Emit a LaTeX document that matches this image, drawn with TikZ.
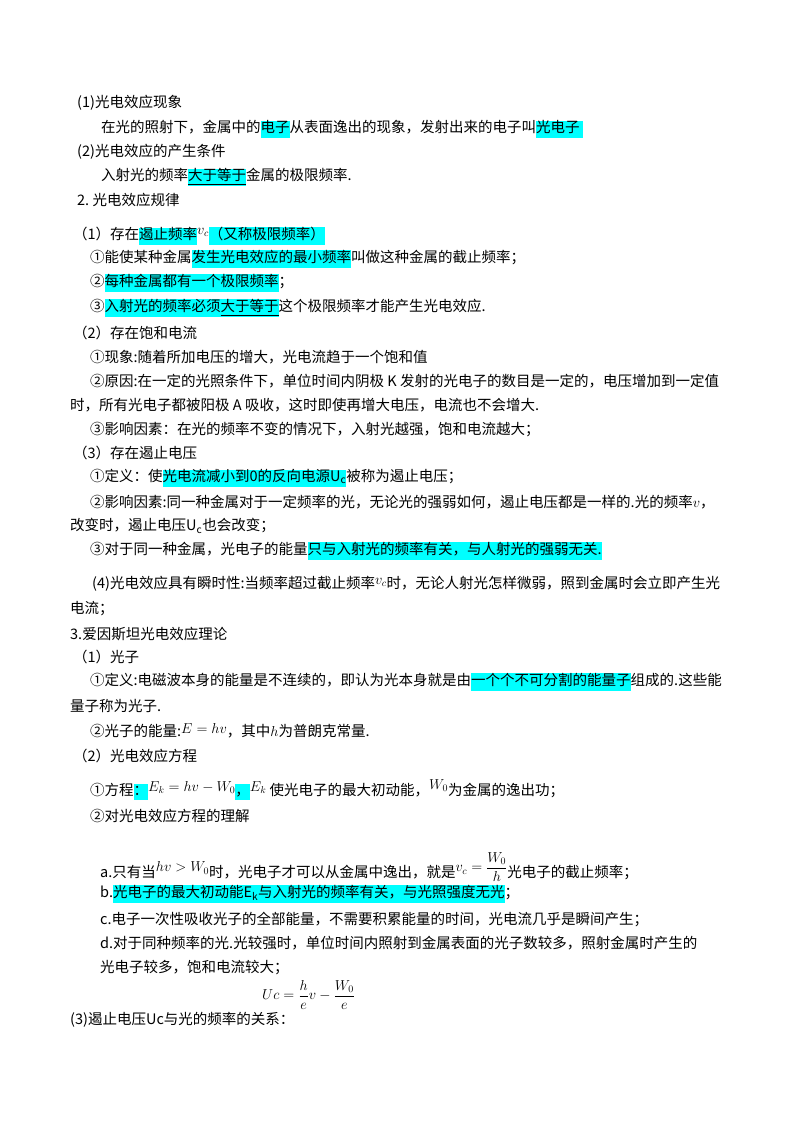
\documentclass[tikz,border=0pt]{standalone}
\usepackage{amsmath}
\usepackage{fontspec}
\setmainfont{Noto Sans CJK SC}
\definecolor{hlcyan}{RGB}{0,255,255}
\newcommand\hlt[1]{{\setlength{\fboxsep}{0pt}\colorbox{hlcyan}{\strut #1}}}
\begin{document}
\begin{tikzpicture}[x=1pt, y=1pt,
    line/.style = {anchor=west, inner sep=0pt, font=\fontsize{14.5}{16}\selectfont}]
    \useasboundingbox (0,0) rectangle (800,-1132);
    % section 1
    \node[line] (l1) at (77,-103) {(1)光电效应现象};
    \node[line] (l2) at (101,-129) {在光的照射下，金属中的\hlt{电子}从表面逸出的现象，发射出来的电子叫\hlt{光电子\ }};
    \node[line] (l3) at (77,-152) {(2)光电效应的产生条件};
    \node[line] (l4) at (101,-177) {入射光的频率\hlt{\underline{大于等于}}金属的极限频率.};
    % section 2
    \node[line] (l5) at (77,-200) {2.\ 光电效应规律};
    \node[line] (l6) at (73,-236) {（1）存在\hlt{遏止频率}\raisebox{5pt}{$v_c$}\hlt{（又称极限频率）}};
    \node[line] (l7) at (90,-259) {①能使某种金属\hlt{发生光电效应的最小频率}叫做这种金属的截止频率；};
    \node[line] (l8) at (90,-283) {②\hlt{每种金属都有一个极限频率}；};
    \node[line] (l9) at (90,-308) {③\hlt{入射光的频率必须\underline{大于等于}}这个极限频率才能产生光电效应.};
    \node[line] (l10) at (73,-333) {（2）存在饱和电流};
    \node[line] (l11) at (90,-357) {①现象:随着所加电压的增大，光电流趋于一个饱和值};
    \node[line] (l12) at (90,-381) {②原因:在一定的光照条件下，单位时间内阴极 K 发射的光电子的数目是一定的，电压增加到一定值};
    \node[line] (l13) at (70,-405) {时，所有光电子都被阳极 A 吸收，这时即使再增大电压，电流也不会增大.};
    \node[line] (l14) at (90,-430) {③影响因素：在光的频率不变的情况下，入射光越强，饱和电流越大；};
    \node[line] (l15) at (73,-453) {（3）存在遏止电压};
    \node[line] (l16) at (90,-478) {①定义：使\hlt{光电流减小到0的反向电源U\textsubscript{c}}被称为遏止电压；};
    \node[line] (l17) at (90,-502) {②影响因素:同一种金属对于一定频率的光，无论光的强弱如何，遏止电压都是一样的.光的频率$v$，};
    \node[line] (l18) at (70,-526) {改变时，遏止电压U\textsubscript{c}也会改变；};
    \node[line] (l19) at (90,-551) {③对于同一种金属，光电子的能量\hlt{只与入射光的频率有关，与人射光的强弱无关.}};
    \node[line] (l20) at (92,-584) {(4)光电效应具有瞬时性:当频率超过截止频率\raisebox{4pt}{$v_c$}时，无论人射光怎样微弱，照到金属时会立即产生光};
    \node[line] (l21) at (70,-609) {电流；};
    % section 3
    \node[line] (l22) at (70,-634) {3.爱因斯坦光电效应理论};
    \node[line] (l23) at (73,-657) {（1）光子};
    \node[line] (l24) at (90,-682) {①定义:电磁波本身的能量是不连续的，即认为光本身就是由\hlt{一个个不可分割的能量子}组成的.这些能};
    \node[line] (l25) at (70,-706) {量子称为光子.};
    \node[line] (l26) at (90,-731) {②光子的能量:\raisebox{3pt}{$E=hv$}，其中$h$为普朗克常量.};
    \node[line] (l27) at (73,-756) {（2）光电效应方程};
    \node[line] (l28) at (90,-790) {①方程\hlt{：}\raisebox{4pt}{$E_k=hv-W_0$}\hlt{，}\raisebox{4pt}{$E_k$} 使光电子的最大初动能，\raisebox{6pt}{$W_0$}为金属的逸出功；};
    \node[line] (l29) at (90,-816) {②对光电效应方程的理解};
    \node[line] (l30) at (100,-867) {a.只有当\raisebox{6pt}{$hv>W_0$}时，光电子才可以从金属中逸出，就是\raisebox{6pt}{$v_c=\dfrac{W_0}{h}$}光电子的截止频率；};
    \node[line] (l31) at (100,-894) {b.\hlt{光电子的最大初动能E\textsubscript{k}与入射光的频率有关，与光照强度无光}；};
    \node[line] (l32) at (100,-919) {c.电子一次性吸收光子的全部能量，不需要积累能量的时间，光电流几乎是瞬间产生；};
    \node[line] (l33) at (100,-943) {d.对于同种频率的光.光较强时，单位时间内照射到金属表面的光子数较多，照射金属时产生的};
    \node[line] (l34) at (100,-968) {光电子较多，饱和电流较大；};
    \node[line] (l35) at (70,-1020) {(3)遏止电压Uc与光的频率的关系：};
    \node[line] (f1) at (262,-995) {$Uc=\dfrac{h}{e}v-\dfrac{W_0}{e}$};
\end{tikzpicture}
\end{document}
